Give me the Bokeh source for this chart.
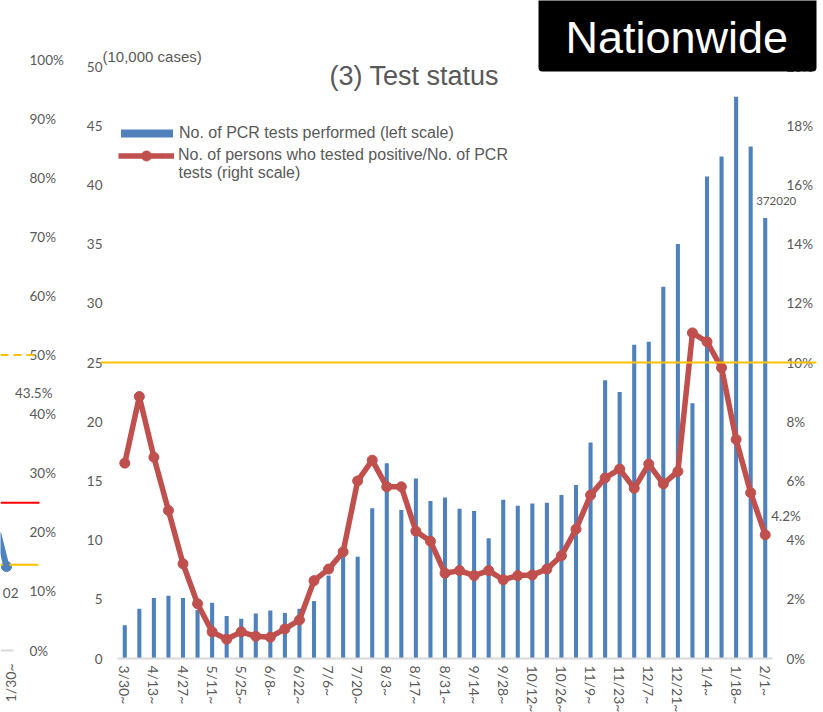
import math
from bokeh.plotting import figure
from bokeh.models import (Range1d, LinearAxis, FixedTicker, Legend, LegendItem, Label, LabelSet,
                          BoxAnnotation, Arrow, ColumnDataSource, PrintfTickFormatter)
from bokeh.core.properties import value
from bokeh.embed import file_html
from bokeh.resources import INLINE

# ---------------- data ----------------
weeks = ["3/30", "4/6", "4/13", "4/20", "4/27", "5/4", "5/11", "5/18", "5/25", "6/1",
         "6/8", "6/15", "6/22", "6/29", "7/6", "7/13", "7/20", "7/27", "8/3", "8/10",
         "8/17", "8/24", "8/31", "9/7", "9/14", "9/21", "9/28", "10/5", "10/12", "10/19",
         "10/26", "11/2", "11/9", "11/16", "11/23", "11/30", "12/7", "12/14", "12/21", "12/28",
         "1/4", "1/11", "1/18", "1/25", "2/1"]
# No. of PCR tests performed (10,000 cases)
pcr_tests = [2.8, 4.2, 5.1, 5.3, 5.1, 4.1, 4.7, 3.6, 3.35, 3.8,
             4.05, 3.85, 4.2, 4.85, 7.0, 8.85, 8.6, 12.7, 16.5, 12.55,
             15.2, 13.3, 13.6, 12.65, 12.45, 10.15, 13.4, 12.9, 13.1, 13.15,
             13.8, 14.65, 18.25, 23.5, 22.5, 26.5, 26.75, 31.4, 35.0, 21.55,
             40.7, 42.4, 47.45, 43.25, 37.202]
# positives / PCR tests (%)
positive_rate = [6.6, 8.85, 6.8, 5.0, 3.2, 1.85, 0.9, 0.65, 0.9, 0.75,
                 0.72, 1.0, 1.3, 2.63, 3.02, 3.6, 6.0, 6.7, 5.8, 5.8,
                 4.3, 3.96, 2.88, 2.97, 2.8, 2.97, 2.66, 2.8, 2.82, 3.02,
                 3.47, 4.37, 5.52, 6.1, 6.4, 5.75, 6.57, 5.9, 6.32, 11.0,
                 10.7, 9.82, 7.4, 5.6, 4.18]
threshold_pct = 10
left_ticks = list(range(0, 51, 5))
right_ticks = list(range(0, 21, 2))
label_idx = list(range(0, len(weeks), 2))
tick_labels = {i: weeks[i] + "~" for i in label_idx}

# fragment of the neighbouring chart (left edge of the slide)
frag_ticks = list(range(0, 101, 10))
frag_tick_labels = [f"{t}%" for t in frag_ticks]
frag_value_label = 43.5
frag_last_point = 14.2

GRAY = "#595959"
BLUE = "#4f81bd"
RED = "#c0504d"
YELLOW = "#ffc000"
ARIAL = "Liberation Sans"
CALIBRI = "Lato"

idx = list(range(len(weeks)))
N = len(weeks)
LMAX, RMAX = 50, 20

# page layout (pixels): the bar area spans x 117..772, y 66..658
SW, SH = 823, 712
PL, PR, PT, PB = 117, 772, 66, 658
def dx(sx):
    return (sx - PL) / (PR - PL) * N - 0.5
def dy(sy):
    return (PB - sy) / (PB - PT) * LMAX
def frag_y(pct):
    return dy(650 - pct * 5.91)

p = figure(width=SW, height=SH, output_backend="svg", toolbar_location=None,
           x_range=Range1d(dx(0), dx(SW)), y_range=Range1d(dy(SH), dy(0)),
           x_axis_location=None, y_axis_location=None,
           min_border_left=0, min_border_right=0, min_border_top=0, min_border_bottom=0)
p.extra_y_ranges = {"pct": Range1d(dy(SH) * RMAX / LMAX, dy(0) * RMAX / LMAX)}
p.outline_line_color = None
p.background_fill_color = "white"
p.border_fill_color = "white"
p.grid.visible = False

common = dict(major_tick_line_color=None, minor_tick_line_color=None, major_tick_out=0,
              major_tick_in=0, minor_tick_out=0, minor_tick_in=0,
              major_label_text_font=CALIBRI, major_label_text_color=GRAY)
xaxis = LinearAxis(ticker=FixedTicker(ticks=label_idx), major_label_overrides=tick_labels,
                   major_label_orientation="vertical", major_label_standoff=7,
                   major_label_text_font_size="14px", axis_line_color="#d9d9d9",
                   axis_line_width=2, fixed_location=0, bounds=(-0.5, N - 0.5), **common)
p.add_layout(xaxis, "below")
yaxis = LinearAxis(ticker=FixedTicker(ticks=left_ticks), major_label_standoff=15,
                   major_label_text_font_size="13.5px", axis_line_color=None,
                   fixed_location=-0.5, bounds=(0, LMAX), **common)
p.add_layout(yaxis, "left")
raxis = LinearAxis(y_range_name="pct", ticker=FixedTicker(ticks=right_ticks),
                   formatter=PrintfTickFormatter(format="%d%%"), major_label_standoff=14,
                   major_label_text_font_size="13.5px", axis_line_color=None,
                   fixed_location=N - 0.5, bounds=(0, RMAX), **common)
p.add_layout(raxis, "right")

# threshold line (10%)
p.add_layout(Arrow(start=None, end=None, x_start=dx(100), x_end=dx(816),
                   y_start=threshold_pct, y_end=threshold_pct, y_range_name="pct",
                   line_color=YELLOW, line_width=2))

# data
bars = p.vbar(x=idx, top=pcr_tests, width=0.28, fill_color=BLUE, line_color=None)
line_r = p.line(x=idx, y=positive_rate, y_range_name="pct", line_color=RED, line_width=5.5,
                line_join="round")
dot_r = p.scatter(x=idx, y=positive_rate, y_range_name="pct", size=10, fill_color=RED,
                  line_color=RED)

# data labels
p.add_layout(Label(x=idx[-1], y=pcr_tests[-1], x_offset=11, y_offset=17,
                   text=f"{pcr_tests[-1]:.4f}".replace(".", ""), text_align="center",
                   text_baseline="middle", text_font=CALIBRI, text_font_size="11.5px",
                   text_color=GRAY))
p.add_layout(Label(x=idx[-1], y=positive_rate[-1], y_range_name="pct", x_offset=6, y_offset=19,
                   text=f"{positive_rate[-1]:.1f}%", text_align="left", text_baseline="middle",
                   text_font=CALIBRI, text_font_size="13.5px", text_color=GRAY))

# legend (two boxes so that each swatch keeps Excel's proportions)
leg_style = dict(label_text_font=ARIAL, label_text_font_size="16px", label_text_color=GRAY,
                 border_line_color=None, background_fill_alpha=0, padding=0, margin=0,
                 spacing=0, label_height=20)
p.add_layout(Legend(items=[LegendItem(label="No. of PCR tests performed (left scale)",
                                      renderers=[bars])],
                    location=(114, SH - 142.5), glyph_width=65, glyph_height=10,
                    label_standoff=0, **leg_style))
p.add_layout(Legend(items=[LegendItem(label="No. of persons who tested positive/No. of PCR",
                                      renderers=[line_r, dot_r])],
                    location=(118, SH - 167.5), glyph_width=56, glyph_height=25,
                    label_standoff=4, **leg_style))
p.add_layout(Label(x=dx(178), y=dy(172), text="tests (right scale)", text_align="left",
                   text_baseline="middle", text_font=ARIAL, text_font_size="16px",
                   text_color=GRAY))

# titles
p.add_layout(Label(x=dx(102), y=dy(56), text="(10,000 cases)", text_align="left",
                   text_baseline="middle", text_font=ARIAL, text_font_size="15px",
                   text_color=GRAY))
p.add_layout(Label(x=dx(329), y=dy(75), text="(3) Test status", text_align="left",
                   text_baseline="middle", text_font=ARIAL, text_font_size="27px",
                   text_color=GRAY))
p.add_layout(BoxAnnotation(left=dx(538), right=dx(816), top=dy(-10), bottom=dy(71),
                           fill_color="black", fill_alpha=1.0, line_color=None, border_radius=4))
p.add_layout(Label(x=dx(565), y=dy(37), text="Nationwide", text_align="left",
                   text_baseline="middle", text_font=ARIAL, text_font_size="45px",
                   text_color="white"))

# fragment of neighbouring chart
frag_src = ColumnDataSource(dict(x=[dx(29)] * len(frag_ticks), y=[frag_y(t) for t in frag_ticks],
                                 text=frag_tick_labels))
p.add_layout(LabelSet(x="x", y="y", text="text", source=frag_src, text_align="left",
                      text_baseline="middle", text_font=value(CALIBRI),
                      text_font_size=value("13.5px"), text_color=GRAY))
p.add_layout(Label(x=dx(52), y=frag_y(frag_value_label), text=f"{frag_value_label}%",
                   text_align="right", text_baseline="middle", text_font=CALIBRI,
                   text_font_size="13.5px", text_color=GRAY))
p.add_layout(Arrow(start=None, end=None, x_start=dx(0), x_end=dx(35), y_start=frag_y(50),
                   y_end=frag_y(50), line_color=YELLOW, line_width=2, line_dash="8 5"))
p.add_layout(Arrow(start=None, end=None, x_start=dx(0), x_end=dx(39), y_start=frag_y(25),
                   y_end=frag_y(25), line_color="#ff0000", line_width=2))
p.add_layout(Arrow(start=None, end=None, x_start=dx(0), x_end=dx(38), y_start=frag_y(14.5),
                   y_end=frag_y(14.5), line_color=YELLOW, line_width=2))
p.add_layout(Arrow(start=None, end=None, x_start=dx(-2), x_end=dx(6), y_start=dy(534),
                   y_end=frag_y(frag_last_point), line_color=BLUE, line_width=6,
                   line_cap="round"))
p.scatter(x=[dx(6)], y=[frag_y(frag_last_point)], size=10, fill_color=BLUE, line_color=BLUE)
p.add_layout(Arrow(start=None, end=None, x_start=dx(0), x_end=dx(13), y_start=frag_y(0),
                   y_end=frag_y(0), line_color="#d9d9d9", line_width=2))
p.add_layout(Label(x=dx(18), y=dy(592), text="02", text_align="right", text_baseline="middle",
                   text_font=CALIBRI, text_font_size="13.5px", text_color=GRAY))
p.add_layout(Label(x=dx(10), y=dy(663), text="1/30~", angle=math.pi / 2, text_align="right",
                   text_baseline="middle", text_font=CALIBRI, text_font_size="14px",
                   text_color=GRAY))

open("out.html", "w").write(file_html(p, INLINE))
